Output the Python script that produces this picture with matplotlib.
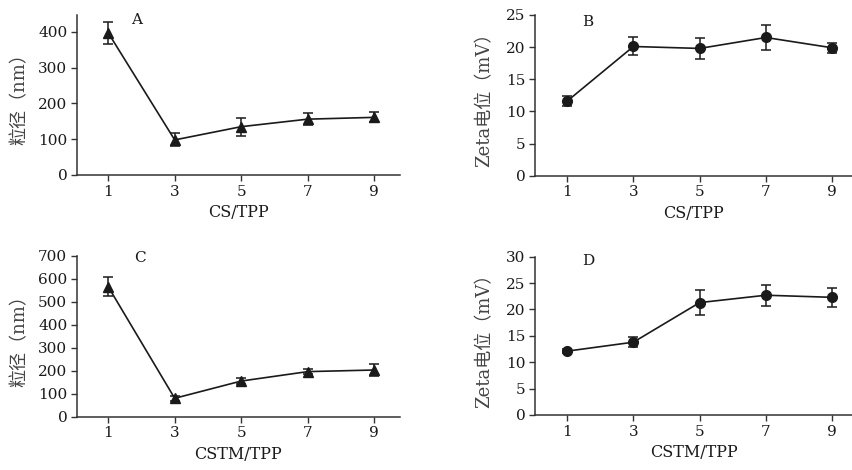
import matplotlib
matplotlib.use("Agg")
import matplotlib.pyplot as plt

plt.rcParams['font.family'] = ['DejaVu Serif', 'Noto Sans CJK SC', 'DejaVu Sans']
plt.rcParams['font.size'] = 11

ratios = [1, 3, 5, 7, 9]
xticks = [1, 3, 5, 7, 9]

size_cs = [397, 98, 135, 156, 161]
size_cs_err = [30, 18, 25, 16, 14]
zeta_cs = [11.6, 20.1, 19.8, 21.5, 19.9]
zeta_cs_err = [0.8, 1.4, 1.6, 1.9, 0.8]
size_cstm = [565, 80, 155, 196, 203]
size_cstm_err = [42, 10, 12, 10, 28]
zeta_cstm = [12.1, 13.8, 21.3, 22.7, 22.3]
zeta_cstm_err = [0.4, 1.0, 2.4, 2.0, 1.8]

W, H = 853, 470
fig = plt.figure(figsize=(W / 100, H / 100), dpi=100)

def add_ax(l, r, b, t):
    return fig.add_axes([l / W, 1 - b / H, (r - l) / W, (b - t) / H])

ink = '#1a1a1a'

panels = [
    dict(box=(77, 400, 175, 15), y=size_cs, e=size_cs_err, m='^', ylim=(0, 447),
         yt=[0, 100, 200, 300, 400], xl='CS/TPP', yl='粒径（nm）', lab='A',
         lp=(0.186, 0.97), xlim=(0.06, 9.78), ylx=-0.177),
    dict(box=(535, 853, 175.7, 15), y=zeta_cs, e=zeta_cs_err, m='o', ylim=(0, 25),
         yt=[0, 5, 10, 15, 20, 25], xl='CS/TPP', yl='Zeta电位（mV）', lab='B',
         lp=(0.167, 0.955), xlim=(0.03, 9.63), ylx=-0.16),
    dict(box=(77, 400, 416.7, 255.7), y=size_cstm, e=size_cstm_err, m='^', ylim=(0, 700),
         yt=[0, 100, 200, 300, 400, 500, 600, 700], xl='CSTM/TPP', yl='粒径（nm）', lab='C',
         lp=(0.195, 0.985), xlim=(0.06, 9.78), ylx=-0.177),
    dict(box=(535, 853, 415, 256.7), y=zeta_cstm, e=zeta_cstm_err, m='o', ylim=(0, 30),
         yt=[0, 5, 10, 15, 20, 25, 30], xl='CSTM/TPP', yl='Zeta电位（mV）', lab='D',
         lp=(0.167, 0.975), xlim=(0.03, 9.63), ylx=-0.16),
]

for p in panels:
    ax = add_ax(*p['box'])
    ax.errorbar(ratios, p['y'], yerr=p['e'], color=ink, marker=p['m'], markersize=7,
                linewidth=1.2, elinewidth=1.1, capsize=3.5, capthick=1.1)
    ax.set_xlim(*p['xlim'])
    ax.set_ylim(*p['ylim'])
    ax.set_xticks(xticks)
    ax.set_yticks(p['yt'])
    for s in ['top', 'right']:
        ax.spines[s].set_visible(False)
    for s in ['left', 'bottom']:
        ax.spines[s].set_color('#333333')
        ax.spines[s].set_linewidth(1.1)
    ax.tick_params(direction='out', length=4, width=1.0, colors='#333333',
                   labelcolor=ink, labelsize=11, pad=3)
    ax.set_xlabel(p['xl'], fontsize=11.5, color=ink, labelpad=4)
    ax.set_ylabel(p['yl'], fontsize=13, color='#444444')
    ax.yaxis.set_label_coords(p['ylx'], 0.5)
    ax.yaxis.label.set_va('center')
    ax.text(p['lp'][0], p['lp'][1], p['lab'], transform=ax.transAxes, fontsize=11,
            color=ink, ha='center', va='center')

fig.savefig('out.png', dpi=100)
